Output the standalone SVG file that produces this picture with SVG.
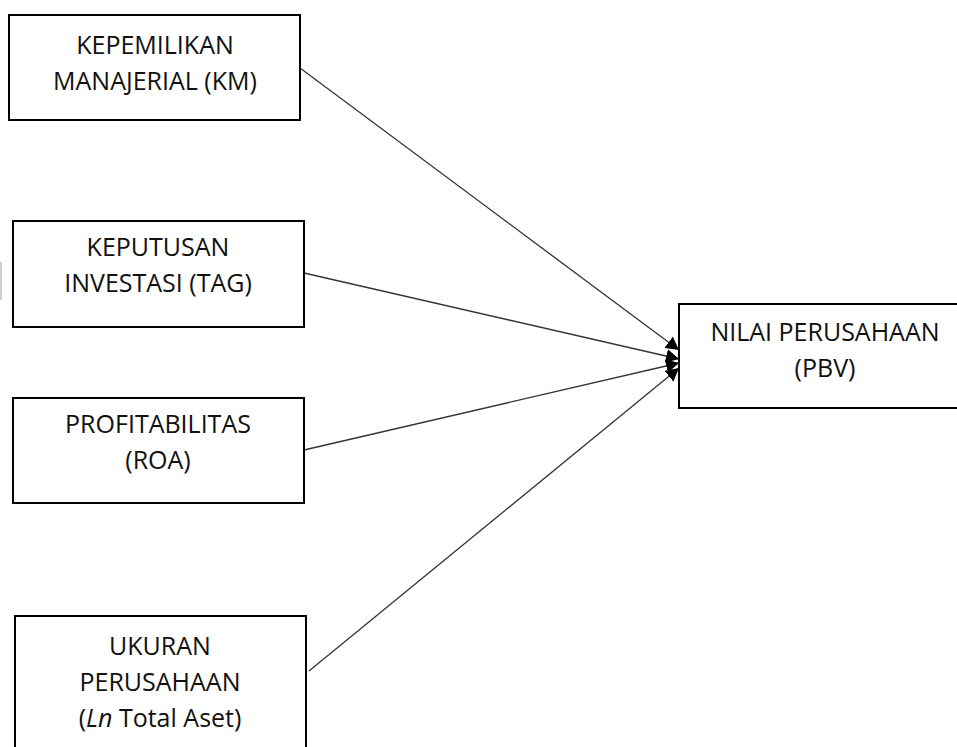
<svg xmlns="http://www.w3.org/2000/svg" width="957" height="747" viewBox="0 0 957 747">
<defs>
<style>
.box{fill:#fff;stroke:#000;stroke-width:2}
.t{font-family:"Open Sans","Noto Sans",sans-serif;font-size:25px;fill:#111;text-anchor:middle}
.c{stroke:#333;stroke-width:1.3;fill:none;marker-end:url(#ah)}
</style>
<marker id="ah" markerUnits="userSpaceOnUse" markerWidth="14" markerHeight="14" refX="13" refY="7" orient="auto">
<path d="M0,0 L13,7 L0,14 z" fill="#000"/>
</marker>
</defs>
<rect x="0" y="0" width="957" height="747" fill="#fff"/>
<rect x="0" y="262" width="2" height="38" fill="#d0d0d0"/>
<g id="connectors">
<line class="c" x1="300" y1="68" x2="679" y2="350"/>
<line class="c" x1="304" y1="273" x2="679" y2="359"/>
<line class="c" x1="304" y1="450" x2="679" y2="363"/>
<line class="c" x1="309" y1="671" x2="679" y2="368"/>
</g>
<g id="km">
<rect class="box" x="9" y="15" width="291" height="105"/>
<text class="t" x="155" y="54">KEPEMILIKAN</text>
<text class="t" x="155" y="90">MANAJERIAL (KM)</text>
</g>
<g id="tag">
<rect class="box" x="13" y="221" width="291" height="106"/>
<text class="t" x="158" y="256">KEPUTUSAN</text>
<text class="t" x="158" y="292">INVESTASI (TAG)</text>
</g>
<g id="roa">
<rect class="box" x="13" y="398" width="291" height="105"/>
<text class="t" x="158" y="433">PROFITABILITAS</text>
<text class="t" x="158" y="469">(ROA)</text>
</g>
<g id="size">
<rect class="box" x="15" y="616" width="291" height="150"/>
<text class="t" x="160" y="655">UKURAN</text>
<text class="t" x="160" y="691">PERUSAHAAN</text>
<text class="t" x="160" y="727">(<tspan font-style="italic">Ln</tspan> Total Aset)</text>
</g>
<g id="pbv">
<rect class="box" x="679" y="304" width="300" height="104"/>
<text class="t" x="825" y="341">NILAI PERUSAHAAN</text>
<text class="t" x="825" y="377">(PBV)</text>
</g>
</svg>
